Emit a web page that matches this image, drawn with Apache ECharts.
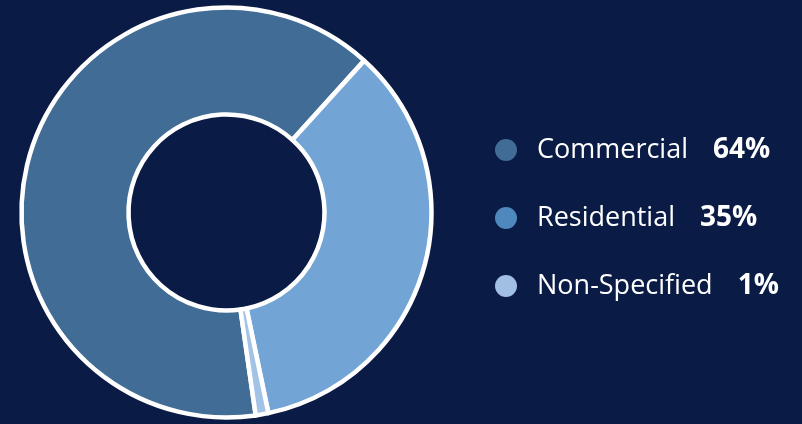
<!DOCTYPE html>
<html>
<head>
<meta charset="utf-8">
<script src="https://cdn.jsdelivr.net/npm/echarts@6/dist/echarts.min.js"></script>
<style>
html,body{margin:0;padding:0;background:#0a1b45;}
#chart{width:802px;height:424px;}
</style>
</head>
<body>
<div id="chart"></div>
<script>
const categories = ['Commercial', 'Residential', 'Non-Specified'];
const values = [64, 35, 1];
const sliceColors = ['#416c96', '#72a5d6', '#a3c3e6'];
const legendColors = ['#416c96', '#4e88bc', '#a0bfe2'];

const chart = echarts.init(document.getElementById('chart'), null, {renderer: 'canvas'});
const option = {
  backgroundColor: '#0a1b45',
  animation: false,
  legend: {
    orient: 'vertical',
    left: 490,
    top: 131,
    itemWidth: 22,
    itemHeight: 22,
    itemGap: 40,
    icon: 'circle',
    selectedMode: false,
    itemStyle: {borderWidth: 0},
    data: categories.map((c, i) => ({name: c, itemStyle: {color: legendColors[i], borderWidth: 0}})),
    formatter: function (name) {
      const i = categories.indexOf(name);
      return '{n|' + name + '}{p|' + values[i] + '%}';
    },
    textStyle: {
      color: '#ffffff',
      rich: {
        n: {fontFamily: 'Open Sans', fontSize: 27, color: '#ffffff', padding: [0, 0, 0, 15], lineHeight: 30},
        p: {fontFamily: 'Open Sans', fontSize: 28, fontWeight: 'bold', color: '#ffffff', padding: [0, 0, 0, 25], lineHeight: 30}
      }
    }
  },
  series: [{
    type: 'pie',
    center: [226.5, 212.5],
    radius: [98, 205],
    startAngle: 278.2,
    clockwise: true,
    label: {show: false},
    labelLine: {show: false},
    emphasis: {disabled: true},
    itemStyle: {borderColor: '#ffffff', borderWidth: 4.5},
    data: categories.map((c, i) => ({name: c, value: values[i], itemStyle: {color: sliceColors[i]}}))
  }]
};
chart.setOption(option);
</script>
</body>
</html>
